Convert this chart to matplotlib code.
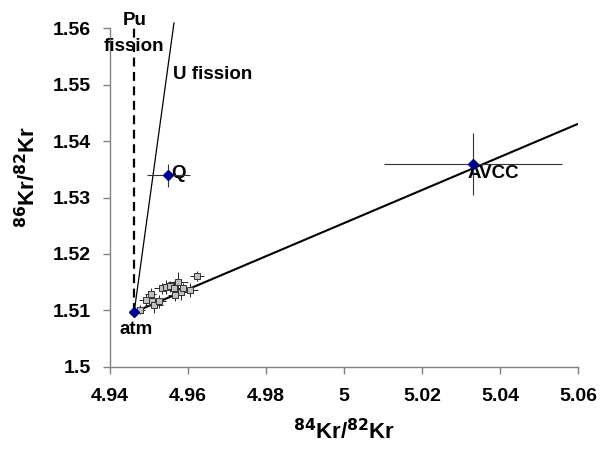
import matplotlib
matplotlib.use("Agg")
import matplotlib.pyplot as plt
import numpy as np

plt.rcParams["font.family"] = ["Liberation Sans", "DejaVu Sans"]
plt.rcParams["font.weight"] = "bold"

# step-heating data points (84Kr/82Kr, 86Kr/82Kr) with 1-sigma errors
kr84 = [4.9476, 4.9493, 4.9504, 4.9508, 4.9513, 4.9525, 4.9534, 4.9544,
        4.9555, 4.9564, 4.9574, 4.9566, 4.9583, 4.9587, 4.9604, 4.9623]
kr86 = [1.5101, 1.5118, 1.5130, 1.5116, 1.5110, 1.5116, 1.5139, 1.5142,
        1.5143, 1.5140, 1.5150, 1.5128, 1.5132, 1.5139, 1.5136, 1.5161]
kr84_err = [0.0015, 0.0018, 0.0015, 0.0020, 0.0022, 0.0018, 0.0020, 0.0015,
            0.0018, 0.0020, 0.0025, 0.0018, 0.0020, 0.0015, 0.0022, 0.0018]
kr86_err = [0.0008, 0.0012, 0.0010, 0.0012, 0.0014, 0.0012, 0.0010, 0.0012,
            0.0010, 0.0012, 0.0018, 0.0012, 0.0014, 0.0010, 0.0012, 0.0008]

# reference components
comp_names = ["atm", "Q", "AVCC"]
comp_x = [4.9462, 4.9549, 5.0331]
comp_y = [1.5097, 1.5339, 1.5360]
comp_xerr = [0.0, 0.0055, 0.0228]
comp_yerr = [0.0, 0.0021, 0.0055]

# mixing / fission lines (start, end)
corr_x = [4.9462, 5.0605]
corr_y = [1.5097, 1.5432]
u_x = [4.9462, 4.9564]
u_y = [1.5097, 1.5609]
pu_x = [4.9462, 4.9462]
pu_y = [1.5097, 1.5603]

fig = plt.figure(figsize=(6.01, 4.53), dpi=100)
ax = fig.add_axes([0.183, 0.19, 0.779, 0.748])

ax.plot(corr_x, corr_y, color="black", lw=1.5, zorder=2)
ax.plot(u_x, u_y, color="black", lw=0.9, zorder=2, clip_on=False)
ax.plot(pu_x, pu_y, color="black", lw=1.6, ls=(0, (4, 2.5)), zorder=2, clip_on=False)

ax.errorbar(kr84, kr86, xerr=kr84_err, yerr=kr86_err, fmt="s", ms=4,
            mfc="#c0c0c0", mec="#333333", mew=0.7, ecolor="#222222",
            elinewidth=0.7, capsize=0, zorder=3)

ax.errorbar(comp_x, comp_y, xerr=comp_xerr, yerr=comp_yerr, fmt="D", ms=5,
            mfc="#00008b", mec="#00008b", ecolor="#333333",
            elinewidth=0.8, capsize=0, zorder=4)

lab = dict(fontsize=13.5, fontweight="bold", color="black")
ax.text(4.9467, 1.5067, "atm", ha="center", va="center", **lab)
ax.text(4.9557, 1.5342, "Q", ha="left", va="center", **lab)
ax.text(5.0317, 1.5342, "AVCC", ha="left", va="center", **lab)
ax.text(4.9464, 1.5614, "Pu", ha="center", va="center", clip_on=False, **lab)
ax.text(4.9462, 1.5568, "fission", ha="center", va="center", **lab)
ax.text(4.9561, 1.5518, "U fission", ha="left", va="center", **lab)

ax.set_xlim(4.94, 5.06)
ax.set_ylim(1.5, 1.56)
ax.set_xticks(np.arange(4.94, 5.0601, 0.02))
ax.set_xticklabels(["4.94", "4.96", "4.98", "5", "5.02", "5.04", "5.06"])
ax.set_yticks(np.arange(1.5, 1.5601, 0.01))
ax.set_yticklabels(["1.5", "1.51", "1.52", "1.53", "1.54", "1.55", "1.56"])

for s in ["top", "right"]:
    ax.spines[s].set_visible(False)
for s in ["left", "bottom"]:
    ax.spines[s].set_color("#808080")
    ax.spines[s].set_linewidth(1.0)
ax.tick_params(direction="out", length=5, width=1.0, color="#808080",
               labelsize=14)
ax.tick_params(axis="x", pad=10)
ax.tick_params(axis="y", pad=9)
for t in ax.get_xticklabels() + ax.get_yticklabels():
    t.set_fontweight("bold")

ax.set_xlabel(r"$\mathbf{^{84}}$Kr/$\mathbf{^{82}}$Kr", fontsize=16,
              fontweight="bold", labelpad=10)
ax.set_ylabel(r"$\mathbf{^{86}}$Kr/$\mathbf{^{82}}$Kr", fontsize=16,
              fontweight="bold", labelpad=10)
ax.yaxis.set_label_coords(-0.15, 0.56)

fig.savefig("out.png", dpi=100)
